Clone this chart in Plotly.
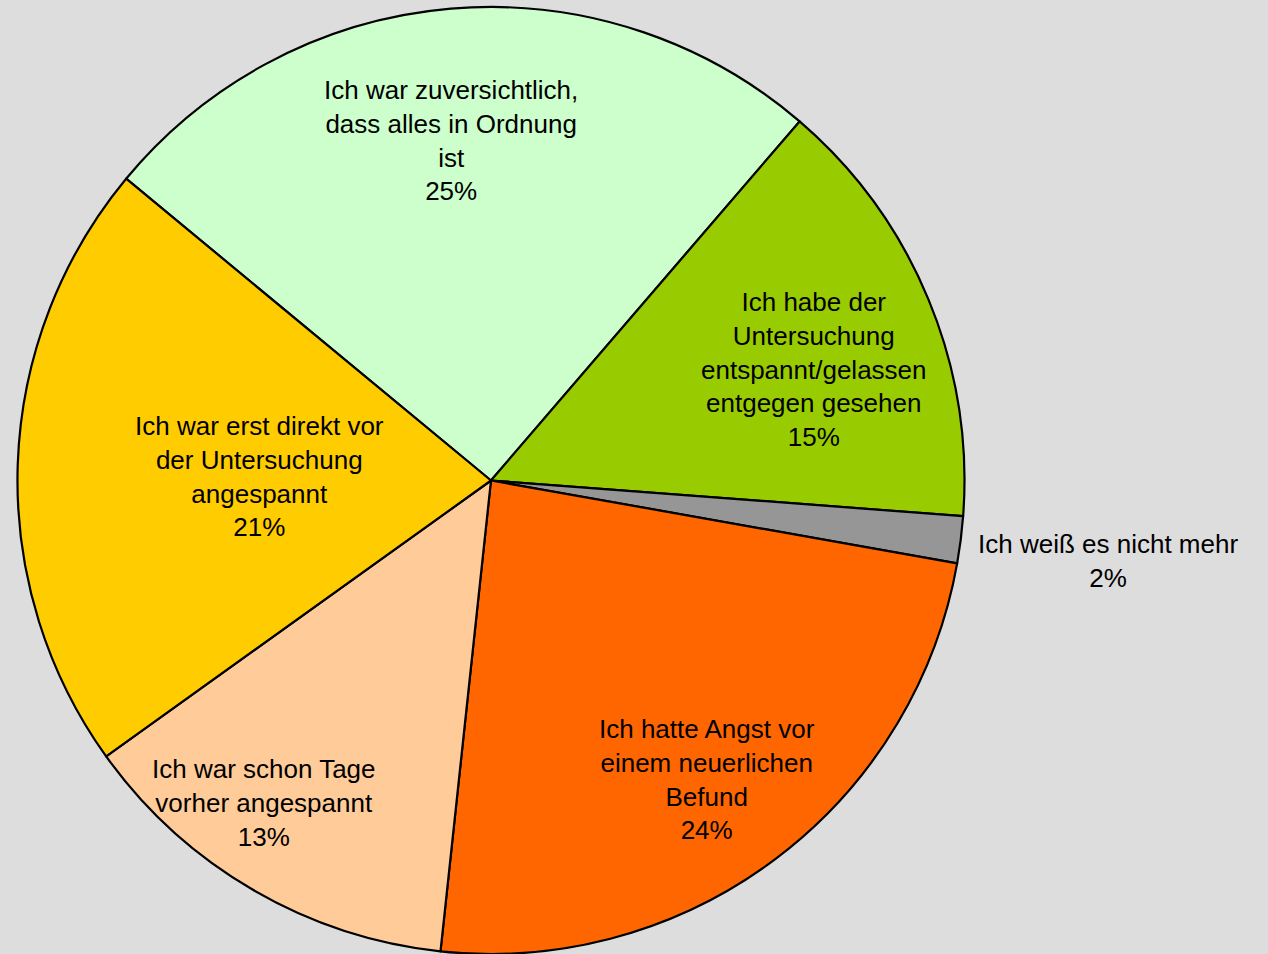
import math

import plotly.graph_objects as go

# slices in clockwise order, starting with the light green one
LABELS = [
    "Ich war zuversichtlich,<br>dass alles in Ordnung<br>ist",
    "Ich habe der<br>Untersuchung<br>entspannt/gelassen<br>entgegen gesehen",
    "Ich weiß es nicht mehr",
    "Ich hatte Angst vor<br>einem neuerlichen<br>Befund",
    "Ich war schon Tage<br>vorher angespannt",
    "Ich war erst direkt vor<br>der Untersuchung<br>angespannt",
]
VALUES = [25.3, 14.9, 1.6, 23.9, 13.4, 20.9]

COLORS = ["#CCFFCC", "#99CC00", "#969696", "#FF6600", "#FFCC99", "#FFCC00"]

# label placement, relative to each slice's mid angle (fraction of radius, degrees)
LABEL_RADIUS = [0.722, 0.722, 1.314, 0.779, 0.834, 0.488]
LABEL_SHIFT = [-1.8, 3.5, 0.2, 1.1, 4.9, -1.1]

ROTATION = -50.4
WIDTH, HEIGHT = 1268, 954
MARGIN = dict(l=0, r=0, t=7, b=0)
DOMAIN_X = [0, 0.7744]

fig = go.Figure(
    go.Pie(
        labels=[l.replace("<br>", " ") for l in LABELS],
        values=VALUES,
        sort=False,
        direction="clockwise",
        rotation=ROTATION,
        marker=dict(colors=COLORS, line=dict(color="black", width=2.2)),
        textinfo="none",
        hoverinfo="label+percent",
        domain=dict(x=DOMAIN_X, y=[0, 1]),
        showlegend=False,
    )
)

# pie geometry in paper coords, to place the labels
plot_w = WIDTH - MARGIN["l"] - MARGIN["r"]
plot_h = HEIGHT - MARGIN["t"] - MARGIN["b"]
radius_px = min(plot_w * (DOMAIN_X[1] - DOMAIN_X[0]), plot_h) / 2
cx = (DOMAIN_X[0] + DOMAIN_X[1]) / 2
cy = 0.5

total = sum(VALUES)
angle = ROTATION
for label, value, rf, shift in zip(LABELS, VALUES, LABEL_RADIUS, LABEL_SHIFT):
    span = value / total * 360
    mid = math.radians(angle + span / 2 + shift)
    angle += span
    x = cx + rf * radius_px * math.sin(mid) / plot_w
    y = cy + rf * radius_px * math.cos(mid) / plot_h
    fig.add_annotation(
        x=x,
        y=y,
        xref="paper",
        yref="paper",
        text=f"{label}<br>{value:.0f}%",
        showarrow=False,
        align="center",
        xanchor="center",
        yanchor="middle",
        font=dict(family="Liberation Sans, Arial, sans-serif", size=26, color="black"),
    )

fig.update_layout(
    width=WIDTH,
    height=HEIGHT,
    margin=MARGIN,
    paper_bgcolor="#DDDDDD",
    plot_bgcolor="#DDDDDD",
)

# drop the browser's default page margin so the chart fills the window
fig.write_html(
    "out.html",
    config={"displayModeBar": False},
    post_script="document.body.style.margin='0';document.body.style.overflow='hidden';",
)
